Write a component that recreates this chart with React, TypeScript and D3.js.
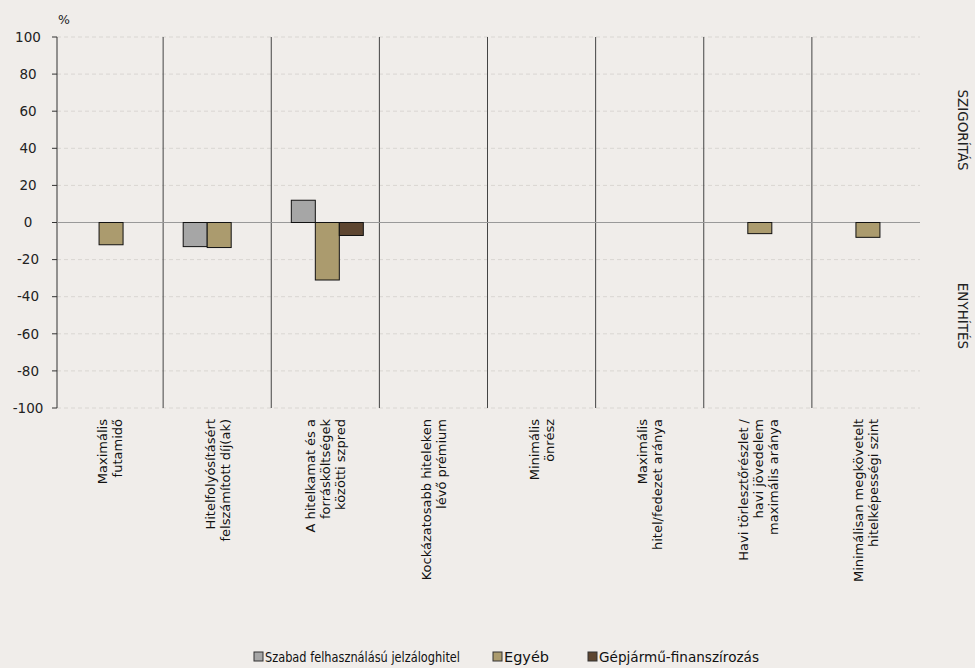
import React from "react";
import * as d3 from "d3";

const categories = [
  ["Maximális", "futamidő"],
  ["Hitelfolyósításért", "felszámított díj(ak)"],
  ["A hitelkamat és a", "forrásköltségek", "közötti szpred"],
  ["Kockázatosabb hiteleken", "lévő prémium"],
  ["Minimális", "önrész"],
  ["Maximális", "hitel/fedezet aránya"],
  ["Havi törlesztőrészlet /", "havi jövedelem", "maximális aránya"],
  ["Minimálisan megkövetelt", "hitelképességi szint"],
];
const seriesNames = ["Szabad felhasználású jelzáloghitel", "Egyéb", "Gépjármű-finanszírozás"];
const colors = ["#a6a6a6", "#ab9b6e", "#5e4631"];
const szabad = [null, -13, 12, null, null, null, null, null];
const egyeb = [-12, -13.5, -31, null, null, null, -6, -8];
const gepjarmu = [null, null, -7, null, null, null, null, null];
const yTicks = [100, 80, 60, 40, 20, 0, -20, -40, -60, -80, -100];

export default function App() {
  const W = 975, H = 668;
  const x = d3.scaleBand<number>().domain(d3.range(8)).range([55, 920]);
  const y = d3.scaleLinear().domain([-100, 100]).range([408, 37]);
  const bw = 24;
  const series = [szabad, egyeb, gepjarmu];
  const font = "'DejaVu Sans', Verdana, sans-serif";
  return (
    <svg width={W} height={H} style={{ position: "absolute", left: 0, top: 0, background: "#f0edea" }} fontFamily={font}>
      <rect width={W} height={H} fill="#f0edea" />
      {yTicks.map((t) => (
        <g key={t}>
          <line x1={57} x2={920} y1={y(t)} y2={y(t)} stroke="#d9d6d2" strokeDasharray="4,3" />
          <line x1={52} x2={57} y1={y(t)} y2={y(t)} stroke="#333" />
          <text x={28} y={y(t)} dy="0.35em" textAnchor="middle" fontSize={13.5} fill="#222">{t}</text>
        </g>
      ))}
      <text x={58} y={24} fontSize={12.5} fill="#222">%</text>
      <line x1={57} x2={57} y1={y(100)} y2={y(-100)} stroke="#333" />
      {d3.range(1, 8).map((i) => (
        <line key={i} x1={x(i)!} x2={x(i)!} y1={y(100)} y2={y(-100)} stroke="#444" />
      ))}
      <line x1={57} x2={920} y1={y(0)} y2={y(0)} stroke="#999" />
      {series.map((s, si) =>
        s.map((v, i) =>
          v == null ? null : (
            <rect key={si + "-" + i}
              x={x(i)! + x.bandwidth() / 2 + (si - 1) * bw - bw / 2 + 2}
              y={y(Math.max(0, v))}
              width={bw}
              height={Math.abs(y(v) - y(0))}
              fill={colors[si]} stroke="#111" strokeWidth={1} />
          )
        )
      )}
      {categories.map((lines, i) => {
        const cx = x(i)! + x.bandwidth() / 2;
        const lh = 15;
        return lines.map((l, li) => (
          <text key={i + "-" + li} fontSize={13} fill="#111" textAnchor="end"
            transform={`translate(${cx + (li - (lines.length - 1) / 2) * lh + 5},419) rotate(-90)`}>{l}</text>
        ));
      })}
      <text transform="translate(958,130) rotate(90)" textAnchor="middle" fontSize={13.5} fill="#222">SZIGORÍTÁS</text>
      <text transform="translate(958,316) rotate(90)" textAnchor="middle" fontSize={13.5} fill="#222">ENYHÍTÉS</text>
      {seriesNames.map((n, i) => {
        const xs = [254, 493, 588];
        const tl = [195, 45, 160];
        return (
          <g key={n}>
            <rect x={xs[i]} y={652} width={9} height={9} fill={colors[i]} stroke="#333" />
            <text x={xs[i] + 11} y={662} fontSize={13.5} fill="#111" textLength={tl[i]} lengthAdjust="spacingAndGlyphs">{n}</text>
          </g>
        );
      })}
    </svg>
  );
}
